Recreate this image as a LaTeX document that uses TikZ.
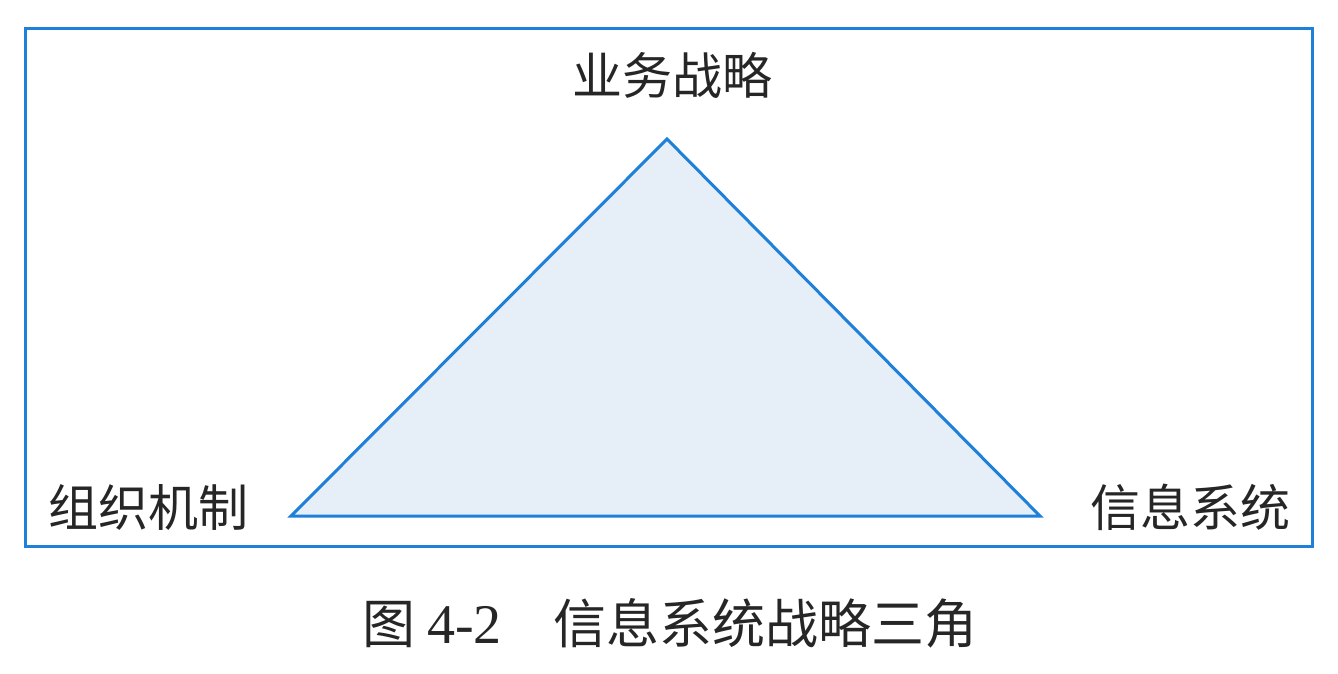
\documentclass[tikz,border=0pt]{standalone}
\usepackage{fontspec}
\newfontfamily\cjk{Noto Sans CJK SC}
\setmainfont{Liberation Serif}
\definecolor{lineblue}{HTML}{1F80DA}
\definecolor{fillblue}{HTML}{E6EEF8}
\tikzset{
  lbl/.style={font=\cjk\fontsize{50}{60}\selectfont, text=black!85, inner sep=0pt},
  edge/.style={draw=lineblue, line width=3pt, line join=miter}
}
\begin{document}
\begin{tikzpicture}[x=1pt,y=-1pt]
\useasboundingbox (0,0) rectangle (1338,673);
\fill[white] (0,0) rectangle (1338,673);
\node[draw=lineblue, line width=3pt, minimum width=1287pt, minimum height=518pt, inner sep=0pt, anchor=north west] (frame) at (24,27) {};
\coordinate (apex) at (667,139);
\coordinate (lv) at (291,516);
\coordinate (rv) at (1040,516);
\path[edge, fill=fillblue] (apex) -- (rv) -- (lv) -- cycle;
\node[lbl] (top) at (672,75) {业务战略};
\node[lbl] (left) at (148,507) {组织机制};
\node[lbl] (right) at (1190,507) {信息系统};
\node[inner sep=0pt, text=black!85] (cap) at (670,623) {\cjk\fontsize{53}{60}\selectfont 图\hspace{12pt}{\rmfamily\fontsize{56}{60}\selectfont 4-2}\hspace{52pt}信息系统战略三角};
\end{tikzpicture}
\end{document}
